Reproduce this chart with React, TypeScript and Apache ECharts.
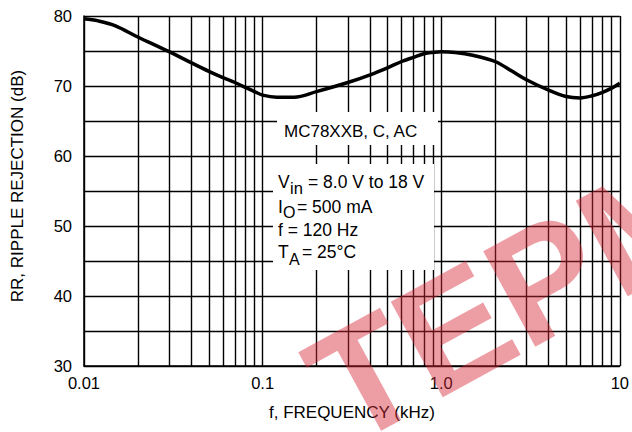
import React, { useEffect, useRef } from "react";
import * as echarts from "echarts";

const FREQ_KHZ = [0.01, 0.012, 0.015, 0.02, 0.03, 0.04, 0.05, 0.06, 0.07, 0.08, 0.09, 0.1, 0.12, 0.15, 0.2, 0.3, 0.4, 0.5, 0.6, 0.7, 0.8, 0.9, 1.0, 1.2, 1.5, 2, 2.5, 3, 4, 5, 6, 7, 8, 9, 10];
const RR_DB = [79.6, 79.3, 78.6, 77.0, 74.9, 73.3, 72.1, 71.2, 70.5, 69.8, 69.2, 68.7, 68.4, 68.4, 69.2, 70.5, 71.6, 72.6, 73.5, 74.1, 74.6, 74.8, 74.9, 74.8, 74.4, 73.5, 72.1, 70.9, 69.4, 68.5, 68.3, 68.6, 69.1, 69.7, 70.4];
const MINOR_X = [0.02, 0.03, 0.04, 0.05, 0.06, 0.07, 0.08, 0.09, 0.2, 0.3, 0.4, 0.5, 0.6, 0.7, 0.8, 0.9, 2, 3, 4, 5, 6, 7, 8, 9];
const X_LABELS: Record<string, string> = { "0.01": "0.01", "0.1": "0.1", "1": "1.0", "10": "10" };

const FONT = "'Liberation Sans', Arial, Helvetica, sans-serif";

export default function App() {
  const ref = useRef<HTMLDivElement>(null);
  useEffect(() => {
    if (!ref.current) return;
    const chart = echarts.init(ref.current, undefined, { renderer: "svg" });
    const txt = (text: string, x: number, y: number, size = 17.5, extra: any = {}) => ({
      type: "text",
      x,
      y,
      z: 110,
      style: { text, fontSize: size, fontFamily: FONT, fill: "#000", verticalAlign: "middle", align: "left", ...extra },
    });
    chart.setOption({
      animation: false,
      backgroundColor: "#fff",
      grid: { left: 84, right: 8, top: 16, bottom: 66 },
      xAxis: {
        type: "log",
        logBase: 10,
        min: 0.01,
        max: 10,
        axisLine: { show: true, lineStyle: { color: "#000", width: 1.5 } },
        axisTick: { show: false },
        splitLine: { show: true, lineStyle: { color: "#000", width: 1.4 } },
        axisLabel: {
          color: "#000",
          fontSize: 16.5,
          fontFamily: FONT,
          margin: 8,
          formatter: (v: number) => X_LABELS[String(Number(v.toPrecision(3)))] ?? "",
        },
        name: "f, FREQUENCY (kHz)",
        nameLocation: "middle",
        nameGap: 38,
        nameTextStyle: { color: "#000", fontSize: 17, fontFamily: FONT },
      },
      yAxis: {
        type: "value",
        min: 30,
        max: 80,
        interval: 5,
        axisLine: { show: true, lineStyle: { color: "#000", width: 1.5 } },
        axisTick: { show: false },
        splitLine: { show: true, lineStyle: { color: "#000", width: 1.4 } },
        axisLabel: {
          color: "#000",
          fontSize: 16.5,
          fontFamily: FONT,
          margin: 12,
          formatter: (v: number) => (v % 10 === 0 ? String(v) : ""),
        },
      },
      series: [
        {
          type: "line",
          data: FREQ_KHZ.map((f, i) => [f, RR_DB[i]]),
          smooth: 0.35,
          showSymbol: false,
          lineStyle: { color: "#000", width: 3.5 },
          z: 5,
          markLine: {
            silent: true,
            symbol: "none",
            label: { show: false },
            lineStyle: { color: "#000", width: 1.4, type: "solid" },
            data: MINOR_X.map((v) => ({ xAxis: v })),
          },
        },
      ],
      graphic: [
        { type: "rect", z: 100, shape: { x: 277, y: 112, width: 161, height: 33 }, style: { fill: "#fff" } },
        { type: "rect", z: 100, shape: { x: 273, y: 164, width: 161, height: 106 }, style: { fill: "#fff" } },
        txt("MC78XXB, C, AC", 284, 131, 17),
        txt("V", 278, 182),
        txt("in", 290, 188, 16.5),
        txt("= 8.0 V to 18 V", 308, 182),
        txt("I", 278, 207),
        txt("O", 283, 212, 16),
        txt("= 500 mA", 297, 207),
        txt("f = 120 Hz", 278, 230),
        txt("T", 278, 252),
        txt("A", 289, 259, 16),
        txt("= 25°C", 302, 252),
        {
          type: "text",
          x: 17,
          y: 186,
          rotation: Math.PI / 2,
          z: 110,
          style: { text: "RR, RIPPLE REJECTION (dB)", fontSize: 17, fontFamily: FONT, fill: "#000", align: "center", verticalAlign: "middle" },
        },
        {
          type: "text",
          x: 515,
          y: 295,
          rotation: 0.5,
          z: 120,
          silent: true,
          style: {
            text: "TEPM",
            fontSize: 158,
            fontWeight: "bold",
            fontFamily: FONT,
            fill: "rgba(215,40,55,0.45)",
            align: "center",
            verticalAlign: "middle",
          },
        },
      ],
    });
    return () => chart.dispose();
  }, []);
  return <div ref={ref} style={{ position: "absolute", left: 0, top: 0, width: 632, height: 432 }} />;
}
